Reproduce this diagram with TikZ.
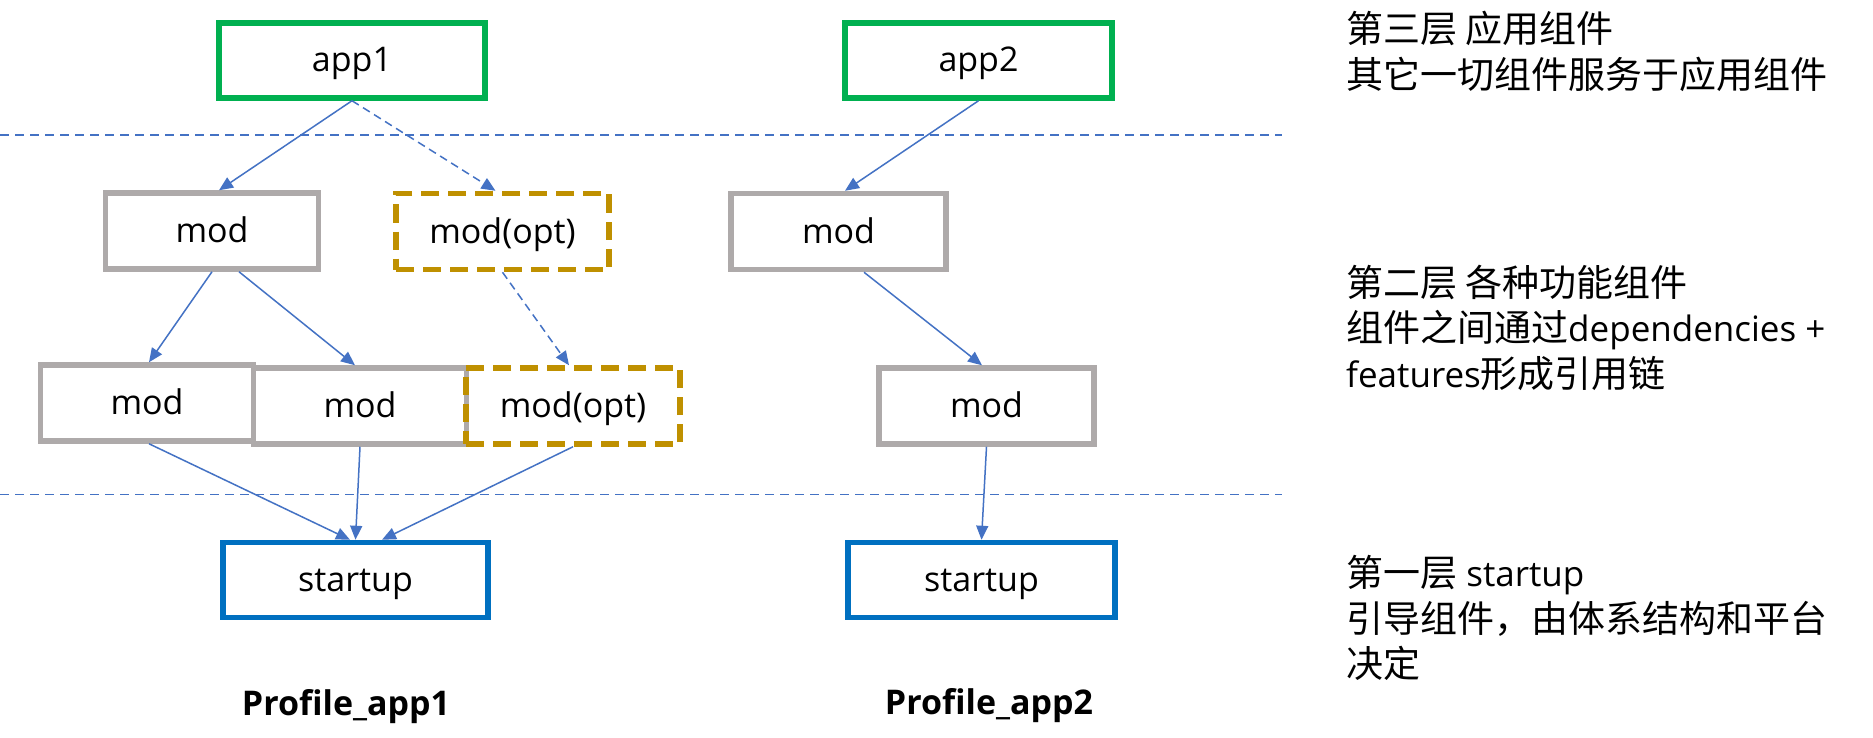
\documentclass[tikz,border=0pt]{standalone}
\usepackage{fontspec}
\setmainfont{Open Sans}
\newfontfamily\cjk{Noto Sans CJK SC}
\usetikzlibrary{arrows.meta}
\definecolor{appgreen}{HTML}{00B050}
\definecolor{modgray}{HTML}{AEAAAA}
\definecolor{optgold}{HTML}{BF9000}
\definecolor{startblue}{HTML}{0070C0}
\definecolor{linkblue}{HTML}{4472C4}
\newcommand{\cj}[1]{{\fontsize{37}{45.5}\selectfont\cjk #1}}
\begin{document}
\begin{tikzpicture}[x=1pt,y=-1pt,
  box/.style={draw, rectangle, line width=5.5pt, inner sep=0pt,
    font=\fontsize{34}{40}\selectfont, text=black, text height=24pt, text depth=1pt},
  appbox/.style={box, draw=appgreen, minimum width=266pt, minimum height=75pt},
  modbox/.style={box, draw=modgray, minimum width=213pt, minimum height=76pt},
  optbox/.style={box, draw=optgold, dash pattern=on 18pt off 9pt, minimum width=213pt, minimum height=76pt},
  startbox/.style={box, draw=startblue, minimum width=266pt, minimum height=75pt},
  dep/.style={draw=linkblue, line width=1.5pt, -{Triangle[length=14pt,width=12pt]}},
  optdep/.style={dep, dash pattern=on 8pt off 5pt},
  layerline/.style={draw=linkblue, line width=1.6pt, dash pattern=on 9pt off 6pt},
  note/.style={anchor=west, align=left, inner sep=0pt, font=\fontsize{35}{45.5}\selectfont, text=black},
  profile/.style={inner sep=0pt, font=\fontsize{34}{40}\selectfont\bfseries, text=black}
]
\useasboundingbox (0,0) rectangle (1873,738);
\fill[white] (0,0) rectangle (1873,738);

% layer separators
\draw[layerline] (0,135) -- (1282,135);
\draw[layerline] (0,494.5) -- (1282,494.5);

% Profile_app1
\node[appbox] (app1) at (352,60.5) {app1};
\node[modbox] (modA) at (212,231) {mod};
\node[optbox] (optA) at (502.5,231.5) {mod(opt)};
\node[modbox] (modB) at (147,403) {mod};
\node[modbox] (modC) at (360,406) {mod};
\node[optbox, minimum width=214pt] (optB) at (573,406) {mod(opt)};
\node[startbox, minimum width=265pt] (start1) at (355.5,580) {startup};
\node[profile] (prof1) at (346,707) {Profile\_app1};

% Profile_app2
\node[appbox, minimum width=267pt] (app2) at (978.5,60.5) {app2};
\node[modbox, minimum width=215pt] (modD) at (838.5,231.5) {mod};
\node[modbox, minimum width=215pt] (modE) at (986.5,406) {mod};
\node[startbox, minimum width=267pt] (start2) at (981.5,580) {startup};
\node[profile] (prof2) at (989,706) {Profile\_app2};

% connectors
\draw[dep] (app1.south) -- ([xshift=7pt]modA.north);
\draw[optdep] (app1.south) -- ([xshift=-7pt]optA.north);
\draw[dep] (modA.south) -- ([xshift=2pt]modB.north);
\draw[dep] ([xshift=27pt]modA.south) -- ([xshift=-5pt]modC.north);
\draw[optdep] (optA.south) -- ([xshift=-4pt]optB.north);
\draw[dep] ([xshift=2pt]modB.south) -- ([xshift=-5.5pt]start1.north);
\draw[dep] (modC.south) -- (start1.north);
\draw[dep] (optB.south) -- ([xshift=26.5pt]start1.north);

\draw[dep] (app2.south) -- ([xshift=6.5pt]modD.north);
\draw[dep] ([xshift=25.5pt]modD.south) -- ([xshift=-4.5pt]modE.north);
\draw[dep] (modE.south) -- (start2.north);

% layer notes
\node[note] (note3) at (1346,51.5) {\cj{第三层 应用组件}\\\cj{其它一切组件服务于应用组件}};
\node[note] (note2) at (1346,327.7) {\cj{第二层 各种功能组件}\\\cj{组件之间通过}dependencies +\\features\cj{形成引用链}};
\node[note] (note1) at (1346,618) {\cj{第一层} startup\\\cj{引导组件，由体系结构和平台}\\\cj{决定}};
\end{tikzpicture}
\end{document}
